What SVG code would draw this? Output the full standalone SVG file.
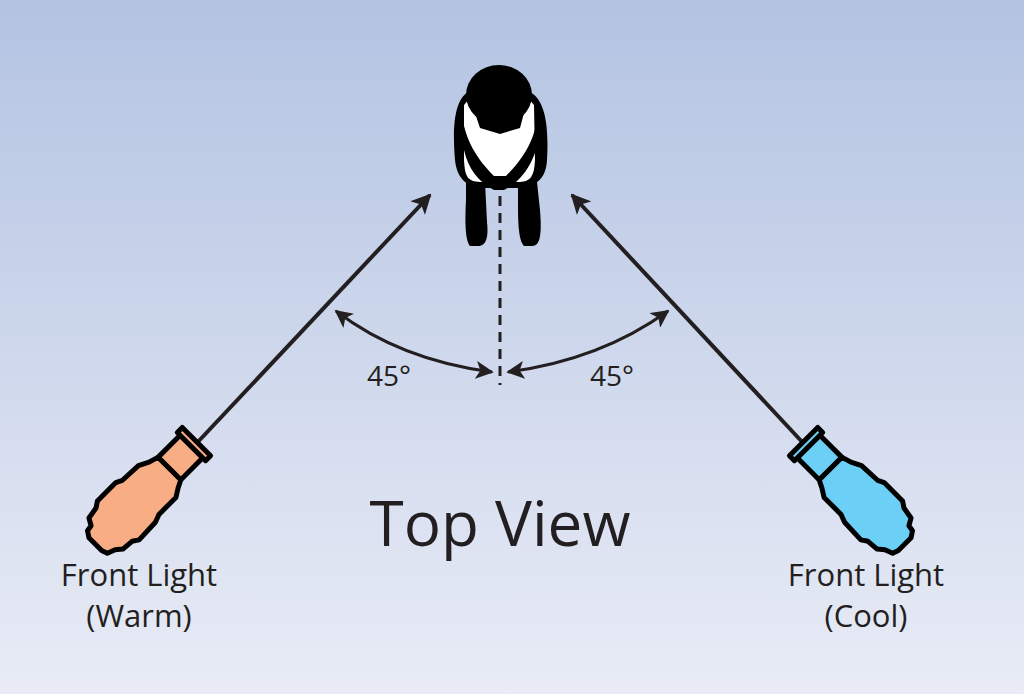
<svg xmlns="http://www.w3.org/2000/svg" width="1024" height="694" viewBox="0 0 1024 694">
<defs>
<linearGradient id="bg" x1="0" y1="0" x2="0" y2="1"><stop offset="0" stop-color="#b3c3e2"/><stop offset="1" stop-color="#e9ecf6"/></linearGradient>
<marker id="ah" viewBox="0 0 10 10" refX="9" refY="5" markerWidth="5" markerHeight="5" orient="auto-start-reverse" markerUnits="strokeWidth"><path d="M0,0 L10,5 L0,10 L2.5,5 Z" fill="#231f20"/></marker>
<marker id="sh" viewBox="0 0 10 10" refX="9" refY="5" markerWidth="6" markerHeight="6" orient="auto-start-reverse" markerUnits="strokeWidth"><path d="M0,0 L10,5 L0,10 L2.5,5 Z" fill="#231f20"/></marker>
<path id="lamp" d="M-142,-8 L-138,-14 L-132,-15 L-128,-22 L-116,-24 L-110,-28 L-84,-28 L-78,-25 L-56,-24 L-46,-19 L-36,-16 L-36,16 L-44,20 L-52,25 L-76,25 L-84,28 L-108,29 L-114,25 L-126,24 L-132,19 L-140,16 L-142,10 Z"/>
</defs>
<style>
.t{font-family:"Myriad Pro","Open Sans","Liberation Sans",sans-serif;fill:#231f20}
.ln{stroke:#231f20;fill:none}
.lp{stroke:#000;stroke-width:5;stroke-linejoin:round}
</style>
<rect width="1024" height="694" fill="url(#bg)"/>
<g id="person" fill="#000">
<path d="M468,92 C455,100 452,125 455,160 C457,180 468,186 480,188 L520,188 C535,186 546,180 547,160 C549,125 545,100 530,92 Z"/>
<path d="M470,98 L480,128 L500,134 L520,128 L528,98 L534,105 L535,160 C534,178 530,181 520,182 L480,182 C468,181 465,178 464,160 L464,105 Z" fill="#fff"/>
<ellipse cx="499" cy="95" rx="33" ry="30"/>
<path d="M462,112 C464,140 478,160 494,176 L506,176 C522,160 536,140 538,112 L536,150 C530,168 520,182 504,190 L494,190 C478,182 468,168 464,150 Z"/>
<path d="M466,182 L485,182 L487,222 C489,240 485,246 478,246 L470,246 C465,240 465,220 466,200 Z"/>
<path d="M518,182 L537,182 L540,210 C542,235 540,246 532,246 L524,246 C518,240 518,220 518,200 Z"/>
</g>
<g id="connectors">
<line class="ln" x1="500" y1="196" x2="500" y2="385" stroke-width="3" stroke-dasharray="10,7"/>
<line class="ln" x1="195" y1="445" x2="430" y2="195" stroke-width="4" marker-end="url(#ah)"/>
<line class="ln" x1="805" y1="445" x2="572" y2="195" stroke-width="4" marker-end="url(#ah)"/>
<path class="ln" d="M336,311 Q400,360 492,372" stroke-width="3" marker-start="url(#sh)" marker-end="url(#sh)"/>
<path class="ln" d="M508,372 Q600,360 668,311" stroke-width="3" marker-start="url(#sh)" marker-end="url(#sh)"/>
</g>
<g id="warm" transform="translate(195,443) rotate(-45)">
<use href="#lamp" class="lp" fill="#f9ad84"/>
<rect x="-36" y="-16" width="31" height="32" class="lp" fill="#f9ad84"/>
<rect x="-5" y="-20" width="7" height="40" class="lp" fill="#f9ad84"/>
</g>
<g id="cool" transform="translate(805,443) scale(-1,1) rotate(-45)">
<use href="#lamp" class="lp" fill="#6ccff5"/>
<rect x="-36" y="-16" width="31" height="32" class="lp" fill="#6ccff5"/>
<rect x="-5" y="-20" width="7" height="40" class="lp" fill="#6ccff5"/>
</g>
<text class="t" x="389" y="386" font-size="28" text-anchor="middle">45°</text>
<text class="t" x="612" y="386" font-size="28" text-anchor="middle">45°</text>
<text class="t" x="500" y="546" font-size="62" text-anchor="middle">Top View</text>
<text class="t" x="139" y="586" font-size="31" text-anchor="middle">Front Light</text>
<text class="t" x="139" y="627" font-size="31" text-anchor="middle">(Warm)</text>
<text class="t" x="866" y="586" font-size="31" text-anchor="middle">Front Light</text>
<text class="t" x="866" y="627" font-size="31" text-anchor="middle">(Cool)</text>
</svg>
